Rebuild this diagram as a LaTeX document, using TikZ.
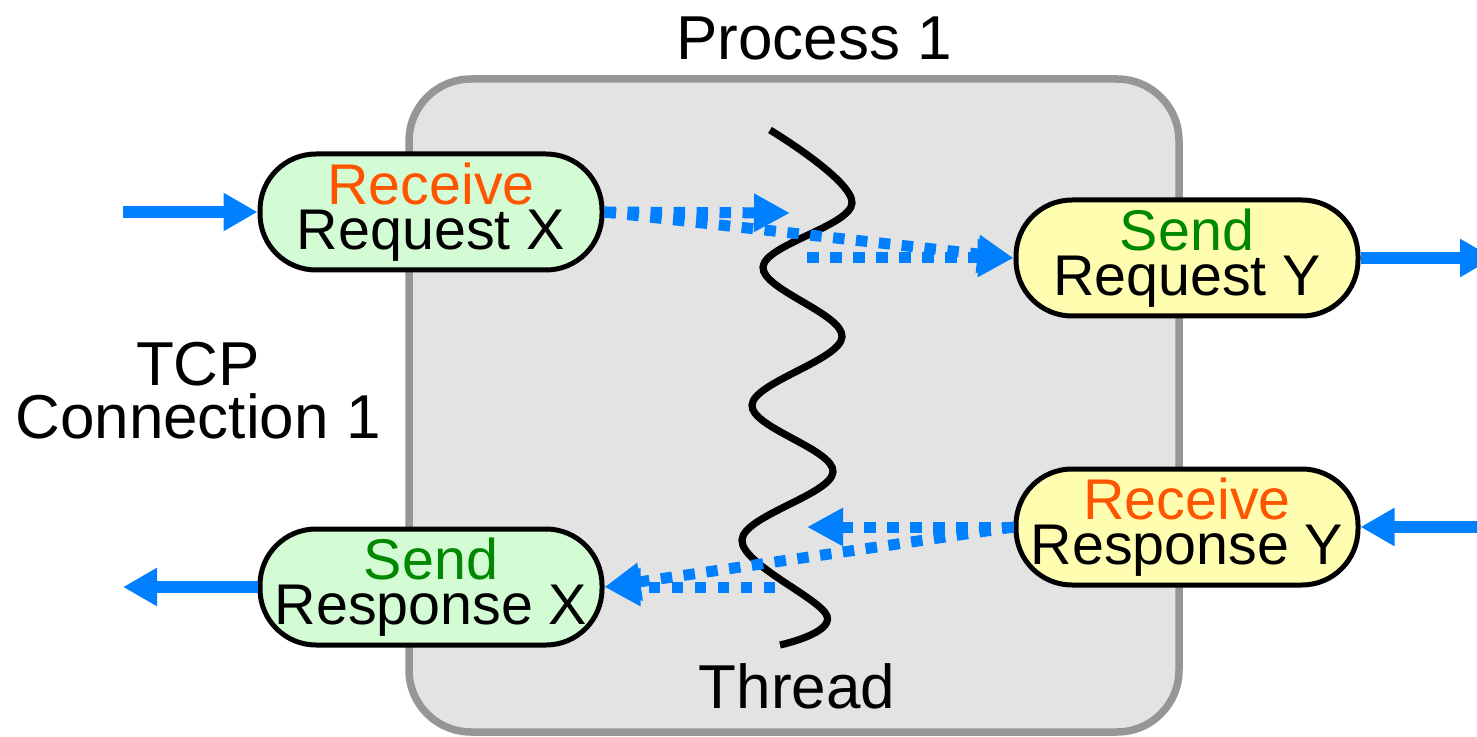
\documentclass[tikz,border=0pt]{standalone}
\usepackage{fontspec}
\setmainfont{Liberation Sans}
\usetikzlibrary{arrows.meta}

\definecolor{procfill}{HTML}{E3E3E3}
\definecolor{procline}{HTML}{969696}
\definecolor{greenfill}{HTML}{D4FCD4}
\definecolor{yellowfill}{HTML}{FFFDB0}
\definecolor{flowblue}{HTML}{0080FF}
\definecolor{recvtext}{HTML}{FF5500}
\definecolor{sendtext}{HTML}{008800}

\tikzset{
  op/.style={draw=black, line width=2.5pt, rounded corners=28pt,
    minimum width=171pt, minimum height=58pt, inner sep=0pt,
    align=center, font=\fontsize{28.7}{22.5}\selectfont},
  clientop/.style={op, fill=greenfill},
  serverop/.style={op, fill=yellowfill},
  label/.style={font=\fontsize{31}{26.5}\selectfont, align=center, inner sep=0pt},
  wire/.style={draw=flowblue, line width=5.75pt,
    -{Triangle[length=17pt,width=18pt]}},
  handoff/.style={draw=flowblue, line width=5.5pt, dash pattern=on 5.75pt off 5.75pt,
    -{Triangle[length=18pt,width=18pt]}},
  threadline/.style={draw=black, line width=3.6pt},
}

\newcommand{\recv}{\textcolor{recvtext}{Receive}}
\newcommand{\snd}{\textcolor{sendtext}{Send}}

\begin{document}
\begin{tikzpicture}[x=0.5pt, y=-0.5pt]
  \useasboundingbox (0,0) rectangle (1477,737);

  % process container
  \draw[fill=procfill, draw=procline, line width=3.75pt, rounded corners=31pt]
    (409,79) rectangle (1179,732);
  \node[label, anchor=base] (proc) at (814,60) {Process 1};

  % the thread
  \draw[threadline] plot[smooth, tension=0.6] coordinates {
    (770,130) (852,203) (763,267) (842,337) (752,405)
    (833,472) (742,540) (827,616) (780,645)};
  \node[label, anchor=base] (thread) at (797,708) {Thread};

  % operations
  \node[clientop] (rrx) at (431,212) {\recv\\Request X};
  \node[clientop] (srx) at (431,587) {\snd\\Response X};
  \node[serverop] (sry) at (1187,258) {\snd\\Request Y};
  \node[serverop] (rry) at (1187,527) {\recv\\Response Y};

  \node[label] (tcp) at (198,391) {TCP\\Connection 1};

  % external connection ends
  \coordinate (inx)  at (123,212);
  \coordinate (outx) at (123,587);
  \coordinate (outy) at (1494,258);
  \coordinate (iny)  at (1490,527);
  \coordinate (midtop) at (790,213);
  \coordinate (tailtop) at (807,258);
  \coordinate (midbot) at (807,527);
  \coordinate (tailbot) at (775,587);

  \draw[wire] (inx) -- (rrx.west);
  \draw[wire] (srx.west) -- (outx);
  \draw[wire] (sry.east) -- (outy);
  \draw[wire] (iny) -- (rry.east);

  % hand-offs inside the process
  \draw[handoff] (rrx.east) -- (midtop);
  \draw[handoff] (rrx.east) -- (sry.west);
  \draw[handoff] (tailtop) -- (sry.west);
  \draw[handoff] (rry.west) -- (midbot);
  \draw[handoff] (rry.west) -- (srx.east);
  \draw[handoff] (tailbot) -- (srx.east);
\end{tikzpicture}
\end{document}
